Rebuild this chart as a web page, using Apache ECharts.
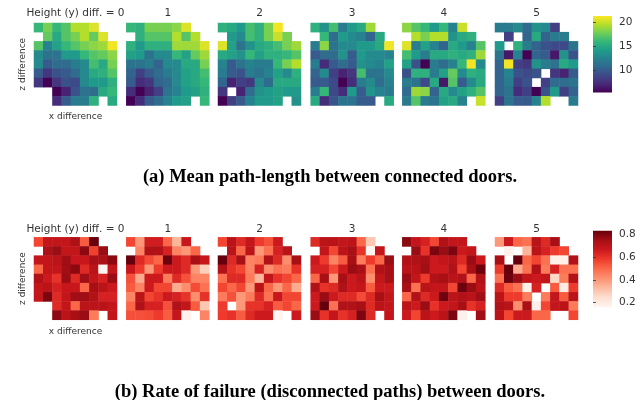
<!DOCTYPE html>
<html><head><meta charset="utf-8">
<style>html,body{margin:0;padding:0;background:#fff}#c{width:641px;height:400px}</style>
<script src="https://cdn.jsdelivr.net/npm/echarts@6/dist/echarts.min.js"></script>
</head><body><div id="c"></div>
<script>
const _ = null;
const cells = ['0','1','2','3','4','5','6','7','8'];
const panelTitles = ['Height (y) diff. = 0','1','2','3','4','5'];
const captionA = '(a) Mean path-length between connected doors.';
const captionB = '(b) Rate of failure (disconnected paths) between doors.';
const lenTicks = [10,15,20];
const failTicks = [0.2,0.4,0.6,0.8];

const meanLen0 = [
[16,18,16,17,19.5,19.5,20.5,_,_],
[_,17.5,15,17,18,19.5,17.5,20.5,_],
[17,12.5,14.5,16,17,18,18.5,19,21],
[13,11.5,11.5,14,14,16,17,17.5,18.5],
[13,10,11,11,12,13,16.5,15,18],
[10,8,9.5,10,11,13,15,15.5,17],
[8,5.5,8,9.5,9,13,14,14,15.5],
[_,_,5.5,7,9.5,11.5,11,15,16],
[_,_,7.5,10,12,12,15.5,_,15]];
const meanLen1 = [
[16,15.5,18,18,18,18.5,20.5,_,_],
[_,15.5,17,17,17,19.5,17,19.5,_],
[15.5,14,15.5,15.5,15.5,19,19,19,20.5],
[14.5,14,11.5,13,13,16,14.5,17.5,19],
[11.5,11.5,12,10.5,13,13,15,15,18],
[10.5,8.5,10,11,12,13,14.5,15,16.5],
[10,7.5,8,10.5,11,13,14.5,15,16],
[7.5,5.5,7,8.5,11.5,12.5,14,14.5,15.5],
[5.5,7.5,10,11,12.5,14,14.5,_,16]];
const meanLen2 = [
[15.5,15,14,16.5,15.5,18,21,_,_],
[_,14,13,16.5,15.5,18,20,18,_],
[20.5,14.5,11.5,13.5,15,15.5,16.5,18,19],
[15,14.5,13.5,16,14.5,15.5,15.5,16,17],
[12.5,10,11.5,12.5,12,12,16,18,19.5],
[12,10,9.5,12,11.5,12.5,14.5,13,15.5],
[10.5,7,8.5,8,13,11,15,15,15],
[8,_,7,11,13.5,14,14.5,14,14],
[5.5,8.5,10,12.5,14,14,14.5,_,13.5]];
const meanLen3 = [
[15.5,13.5,16.5,12,14,15,19,_,_],
[_,16,11,14,13,12.5,10.5,15,_],
[12,18.5,11.5,13,13,14,14,15,21],
[10,11,11,13.5,10,14,13,13,12.5],
[12,7.5,10,11,10,13.5,13,12.5,14.5],
[10.5,13,8.5,7,8,16.5,11.5,11.5,13],
[10,10,9,5.5,7.5,12,13,11,12.5],
[12,16,9,7.5,14,10,13.5,12.5,12],
[15,7.5,9.5,11.5,11.5,10,10,_,15]];
const meanLen4 = [
[18.5,17,16,14,16,12.5,20,_,_],
[_,19.5,18,19.5,19.5,13.5,15,15.5,_],
[20.5,12,14.5,12.5,10.5,15,14,12.5,17],
[16.5,14,12,15,15,15.5,15,15.5,19],
[14.5,9.5,5.5,12,11,12.5,16,21,13],
[9.5,15.5,15.5,12,14.5,17.5,13,15.5,15],
[12,11.5,9,15,6.5,17,10,13,15],
[11,19,18.5,10.5,15,13,14.5,15.5,17],
[12,17,12,11.5,14.5,15,12.5,_,20]];
const meanLen5 = [
[12,12,13,11,13.5,13,8.5,_,_],
[_,8.5,_,10.5,15,10.5,12,12,_],
[14,_,15.5,12,10.5,9.5,9,9,11.5],
[11.5,6.5,12.5,5.5,10.5,10,6.5,13.5,9.5],
[10.5,21,8.5,8,13.5,12,11.5,15,14],
[10.5,12.5,9.5,9,9.5,_,8,7,10],
[10.5,12,8.5,9.5,_,8.5,11,11,11.5],
[10.5,11.5,7.5,8.5,5.5,9.5,14,8.5,10.5],
[8.5,11.5,10,10,12.5,19.5,_,_,12]];

const failRate0 = [
[.56,.68,.68,.68,.73,.52,.83,_,_],
[_,.73,.76,.68,.68,.78,.57,.76,_],
[.68,.68,.7,.75,.67,.67,.74,.73,.78],
[.5,.68,.68,.75,.78,.62,.7,.16,.68],
[.72,.66,.6,.76,.62,.75,.68,.64,.76],
[.68,.7,.64,.67,.67,.5,.74,.7,.66],
[.68,.8,.62,.68,.75,.75,.72,.64,.64],
[_,_,.62,.68,.5,.7,.7,.7,.68],
[_,_,.78,.7,.74,.76,.46,_,.68]];
const failRate1 = [
[.56,.4,.65,.65,.5,.34,.67,_,_],
[_,.44,.72,.72,.64,.44,.4,.5,_],
[.83,.62,.55,.5,.82,.66,.62,.74,.67],
[.67,.58,.4,.58,.66,.66,.62,.4,.28],
[.54,.36,.66,.66,.46,.62,.54,.44,.44],
[.52,.44,.66,.56,.56,.36,.42,.55,.48],
[.44,.7,.56,.6,.66,.64,.6,.42,.6],
[.5,.72,.64,.64,.54,.72,.68,.52,.3],
[.54,.54,.55,.58,.52,.68,.17,_,.44]];
const failRate2 = [
[.56,.7,.62,.68,.58,.54,.66,_,_],
[_,.7,.5,.7,.4,.48,.64,.7,_],
[.83,.62,.74,.44,.46,.72,.62,.42,.74],
[.72,.6,.56,.44,.64,.42,.48,.46,.6],
[.48,.62,.62,.46,.34,.68,.6,.56,.5],
[.56,.5,.56,.4,.7,.5,.4,.5,.36],
[.46,.54,.4,.46,.62,.48,.67,.56,.56],
[.58,_,.4,.6,.6,.64,.52,.56,.5],
[.58,.6,.52,.62,.66,.66,.16,_,.66]];
const failRate3 = [
[.62,.7,.7,.68,.7,.5,.3,_,_],
[_,.68,.56,.7,.74,.6,.16,.68,_],
[.66,.58,.44,.52,.74,.46,.58,.5,.76],
[.64,.64,.56,.66,.76,.74,.48,.72,.74],
[.5,.74,.4,.74,.66,.7,.42,.68,.74],
[.72,.6,.62,.72,.66,.68,.52,.66,.66],
[.66,.76,.66,.62,.62,.55,.62,.74,.68],
[.66,.83,.48,.72,.72,.74,.62,.7,.68],
[.76,.6,.68,.6,.64,.8,.62,_,.68]];
const failRate4 = [
[.78,.68,.64,.56,.72,.68,.68,_,_],
[_,.76,.6,.8,.76,.8,.66,.68,_],
[.72,.72,.74,.66,.68,.7,.62,.76,.66],
[.7,.7,.75,.66,.66,.72,.56,.74,.82],
[.76,.68,.58,.72,.74,.7,.72,.5,.72],
[.74,.48,.7,.68,.68,.56,.82,.76,.7],
[.5,.72,.62,.66,.82,.7,.72,.7,.75],
[.7,.66,.76,.6,.66,.68,.74,.6,.64],
[.66,.56,.7,.66,.7,.8,.17,_,.75]];
const failRate5 = [
[.4,.66,.5,.48,.7,.62,.74,_,_],
[_,.17,_,.34,.7,.64,.58,.56,_],
[.74,_,.83,.5,.56,.48,.18,.18,.72],
[.58,.83,.36,.48,.72,.46,.64,.48,.48],
[.48,.82,.76,.68,.66,.68,.26,.46,.72],
[.62,.52,.48,.18,.64,_,.52,.2,.58],
[.7,.58,.58,.46,_,.46,.68,.52,.7],
[.72,.7,.42,.74,.18,.56,.68,.7,.46],
[.7,.56,.66,.66,.5,.5,_,_,.56]];

const meanLen = [meanLen0,meanLen1,meanLen2,meanLen3,meanLen4,meanLen5];
const failRate = [failRate0,failRate1,failRate2,failRate3,failRate4,failRate5];

const viridis = ['#440154','#482878','#3e4989','#31688e','#26828e','#1f9e89','#35b779','#6ece58','#b5de2b','#fde725'];
const reds = ['#fff5f0','#fee0d2','#fcbba1','#fc9272','#fb6a4a','#ef3b2c','#cb181d','#a50f15','#67000d'];

const panelLeft = [34,126.3,218,310.7,402.3,495];
const panelW = 83;
const rowTop = [23,237.3];
const panelH = 82.5;
const textCol = '#333';
const font = '"DejaVu Sans"';

function gradient(cols){
  return new echarts.graphic.LinearGradient(0,1,0,0,
    cols.map((c,i)=>({offset:i/(cols.length-1),color:c})));
}

const grid=[],xAxis=[],yAxis=[],series=[],title=[],visualMap=[];
const hiddenAxis = (extra)=>Object.assign({type:'category',data:cells,
  axisLine:{show:false},axisTick:{show:false},axisLabel:{show:false},splitLine:{show:false},
  nameTextStyle:{color:textCol,fontFamily:font,fontSize:9}},extra);

[meanLen,failRate].forEach((group,r)=>{
  const base = series.length;
  group.forEach((rows,p)=>{
    const gi = grid.length;
    grid.push({left:panelLeft[p],top:rowTop[r],width:panelW,height:panelH});
    const isFirst = p===0;
    xAxis.push(hiddenAxis({gridIndex:gi,name:isFirst?'x difference':'',nameLocation:'middle',nameGap:7}));
    yAxis.push(hiddenAxis({gridIndex:gi,inverse:true,name:isFirst?'z difference':'',nameLocation:'middle',nameGap:7}));
    const data=[];
    rows.forEach((row,y)=>row.forEach((v,x)=>{ if(v!==null) data.push([x,y,v]); }));
    series.push({type:'heatmap',xAxisIndex:gi,yAxisIndex:gi,data,animation:false,
      itemStyle:{borderWidth:0},emphasis:{disabled:true}});
    title.push({text:panelTitles[p],left:panelLeft[p]+panelW/2-5,top:rowTop[r]-(r?19:20),textAlign:'center',
      textStyle:{color:textCol,fontFamily:font,fontSize:10.5,fontWeight:'normal'}});
  });
  visualMap.push({show:false,type:'continuous',
    seriesIndex:[0,1,2,3,4,5].map(i=>i+base),
    min:r?0.16:5.45,max:r?0.83:21.3,
    inRange:{color:r?reds:viridis}});
  // colour bar
  const gi = grid.length;
  const ticks = r?failTicks:lenTicks;
  grid.push({left:593,top:r?230.7:16,width:19,height:76.5,show:true,borderWidth:0,
    backgroundColor:gradient(r?reds:viridis)});
  xAxis.push({type:'value',gridIndex:gi,show:false});
  yAxis.push({type:'value',gridIndex:gi,position:'right',min:r?0.16:5.45,max:r?0.83:21.3,
    axisLine:{show:false},splitLine:{show:false},
    axisTick:{show:true,length:3,lineStyle:{color:textCol,width:0.8},customValues:ticks},
    axisLabel:{color:textCol,fontFamily:font,fontSize:10.5,margin:7,customValues:ticks,
      showMinLabel:true,showMaxLabel:true,
      formatter:v=>r?v.toFixed(1):String(v)}});
});

title.push({text:captionA,left:325,top:163,textAlign:'center',
  textStyle:{color:'#000',fontFamily:'"Liberation Serif"',fontSize:18.5,fontWeight:700}});
title.push({text:captionB,left:325,top:378,textAlign:'center',
  textStyle:{color:'#000',fontFamily:'"Liberation Serif"',fontSize:18.5,fontWeight:700}});

const chart = echarts.init(document.getElementById('c'),null,{renderer:'canvas'});
chart.setOption({animation:false,backgroundColor:'#fff',grid,xAxis,yAxis,series,title,visualMap});
</script></body></html>
